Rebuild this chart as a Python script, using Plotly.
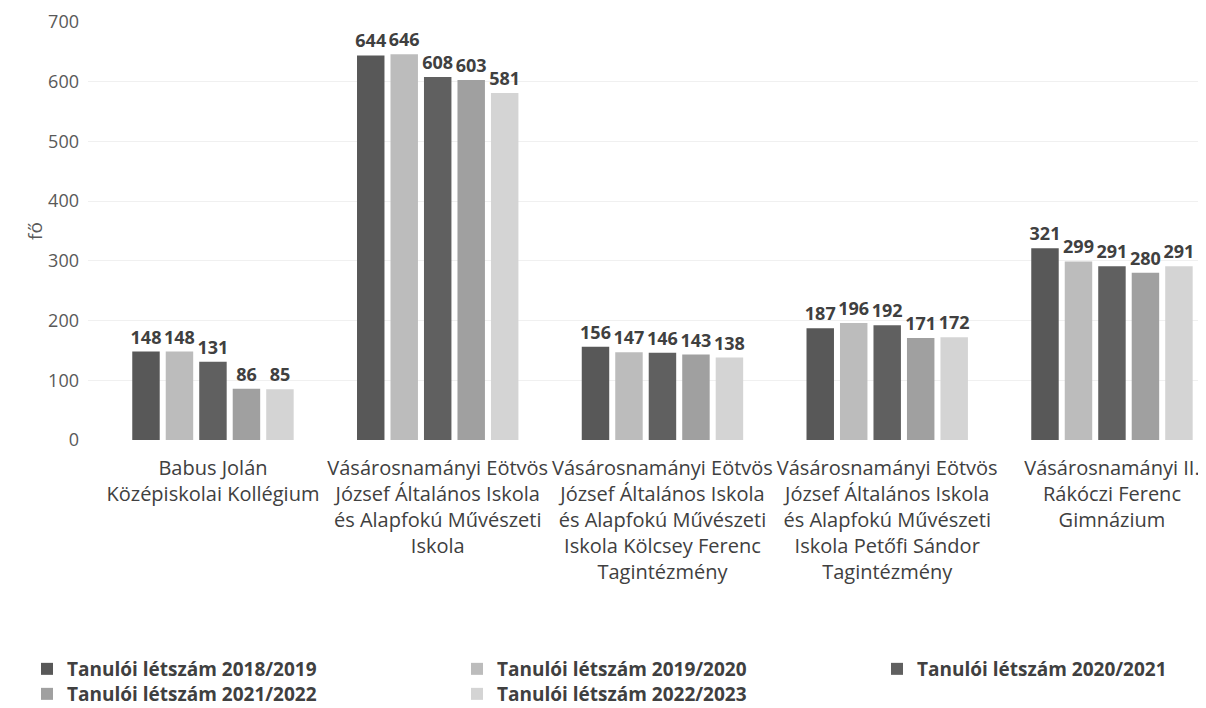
import plotly.graph_objects as go

categories = [
    "Babus Jolán<br>Középiskolai Kollégium",
    "Vásárosnamányi Eötvös<br>József Általános Iskola<br>és Alapfokú Művészeti<br>Iskola",
    "Vásárosnamányi Eötvös<br>József Általános Iskola<br>és Alapfokú Művészeti<br>Iskola Kölcsey Ferenc<br>Tagintézmény",
    "Vásárosnamányi Eötvös<br>József Általános Iskola<br>és Alapfokú Művészeti<br>Iskola Petőfi Sándor<br>Tagintézmény",
    "Vásárosnamányi II.<br>Rákóczi Ferenc<br>Gimnázium",
]
series_names = [
    "Tanulói létszám 2018/2019",
    "Tanulói létszám 2019/2020",
    "Tanulói létszám 2020/2021",
    "Tanulói létszám 2021/2022",
    "Tanulói létszám 2022/2023",
]
v2018 = [148, 644, 156, 187, 321]
v2019 = [148, 646, 147, 196, 299]
v2020 = [131, 608, 146, 192, 291]
v2021 = [86, 603, 143, 171, 280]
v2022 = [85, 581, 138, 172, 291]
values = [v2018, v2019, v2020, v2021, v2022]
colors = ["#585858", "#bcbcbc", "#606060", "#a0a0a0", "#d4d4d4"]
legend_ids = ["legend2", "legend3", "legend4", "legend5", "legend6"]

FONT = "'Open Sans', 'Noto Sans', sans-serif"
fig = go.Figure()
for name, vals, col, lg in zip(series_names, values, colors, legend_ids):
    fig.add_trace(go.Bar(
        x=list(range(len(categories))), y=vals, name=name,
        marker=dict(color=col, line=dict(width=0)),
        text=[str(v) for v in vals], textposition="outside",
        textfont=dict(family=FONT, size=18, color="#404040", weight="bold"),
        constraintext="none", cliponaxis=False, legend=lg,
    ))

L, T, B = 80, 14, 276
W, H = 1206, 708
pw, ph = W - L, H - T - B

def px_x(x):
    return (x - L) / pw

def px_y(y):
    return (H - B - y) / ph

leg_common = dict(
    orientation="v", xanchor="left", yanchor="middle",
    font=dict(family=FONT, size=19, color="#404040", weight="bold"),
    itemwidth=30, bgcolor="rgba(0,0,0,0)",
)
col_x = [19, 449, 869, 19, 449]
row_y = [661, 661, 661, 686, 686]
legends = {}
for lg, cx, ry in zip(legend_ids, col_x, row_y):
    legends[lg] = dict(x=px_x(cx), y=px_y(ry), **leg_common)

fig.update_layout(
    width=W, height=H,
    paper_bgcolor="white", plot_bgcolor="white",
    margin=dict(l=L, r=0, t=T, b=B),
    barmode="group", bargap=0.255, bargroupgap=0.18,
    font=dict(family=FONT, color="#404040"),
    xaxis=dict(
        tickmode="array", tickvals=list(range(len(categories))), ticktext=categories,
        range=[-0.556, 4.454], showline=False, ticks="",
        tickfont=dict(size=20, color="#404040"), tickangle=0,
        ticklabelstandoff=14,
    ),
    yaxis=dict(
        range=[0, 700], dtick=100, showgrid=True, gridcolor="#f0f0f0",
        zeroline=False, showline=False,
        tickfont=dict(size=18, color="#595959"),
        ticklabelstandoff=8,
        title=dict(text="fő", font=dict(size=19, color="#595959"), standoff=0),
    ),
    showlegend=True,
    **legends,
)
fig.write_html("out.html")
